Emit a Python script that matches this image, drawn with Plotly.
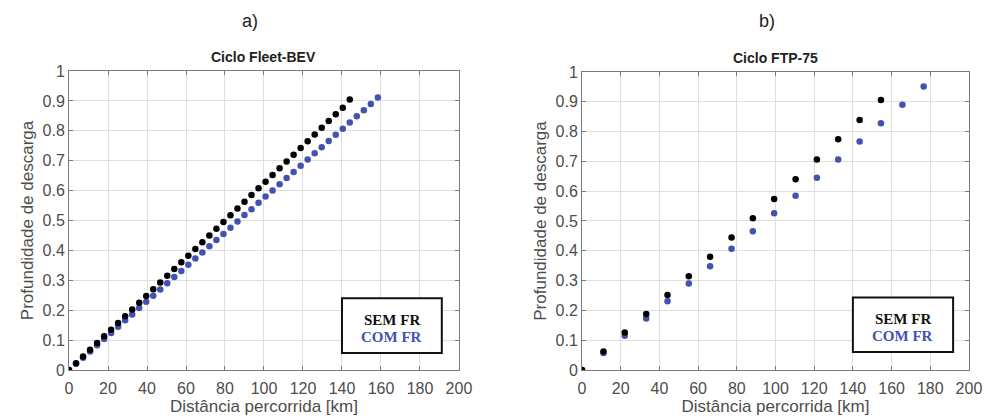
import plotly.graph_objects as go

# ---- Data: Ciclo Fleet-BEV ----
fleet_x_sem = [0, 3.6, 7.2, 10.8, 14.4, 18.0, 21.6, 25.2, 28.8, 32.4, 36.0, 39.6, 43.2, 46.8, 50.4,
               54.0, 57.6, 61.2, 64.8, 68.4, 72.0, 75.6, 79.2, 82.8, 86.4, 90.0, 93.6, 97.2, 100.8,
               104.4, 108.0, 111.6, 115.2, 118.8, 122.4, 126.0, 129.6, 133.2, 136.8, 140.4, 144.0]
fleet_y_sem = [0, 0.0225, 0.045, 0.0675, 0.09, 0.1125, 0.135, 0.1575, 0.18, 0.2025, 0.225, 0.2475,
               0.27, 0.2925, 0.315, 0.3375, 0.36, 0.3825, 0.405, 0.4275, 0.45, 0.4725, 0.495, 0.5175,
               0.54, 0.5625, 0.585, 0.6075, 0.63, 0.6525, 0.675, 0.6975, 0.72, 0.7425, 0.765, 0.7875,
               0.81, 0.8325, 0.855, 0.8775, 0.905]
fleet_x_com = [0, 3.6, 7.2, 10.8, 14.4, 18.0, 21.6, 25.2, 28.8, 32.4, 36.0, 39.6, 43.2, 46.8, 50.4,
               54.0, 57.6, 61.2, 64.8, 68.4, 72.0, 75.6, 79.2, 82.8, 86.4, 90.0, 93.6, 97.2, 100.8,
               104.4, 108.0, 111.6, 115.2, 118.8, 122.4, 126.0, 129.6, 133.2, 136.8, 140.4, 144.0,
               147.6, 151.2, 154.8, 158.4]
fleet_y_com = [0, 0.021, 0.041, 0.062, 0.083, 0.104, 0.124, 0.145, 0.166, 0.186, 0.207, 0.228,
               0.248, 0.269, 0.290, 0.311, 0.331, 0.352, 0.373, 0.393, 0.414, 0.435, 0.455, 0.476,
               0.497, 0.518, 0.538, 0.559, 0.580, 0.600, 0.621, 0.642, 0.662, 0.683, 0.704, 0.725,
               0.745, 0.766, 0.787, 0.807, 0.828, 0.849, 0.869, 0.890, 0.911]

# ---- Data: Ciclo FTP-75 ----
ftp_x_sem = [0, 11.1, 22.1, 33.2, 44.2, 55.2, 66.2, 77.3, 88.3, 99.3, 110.4, 121.4, 132.4, 143.5, 154.5]
ftp_y_sem = [0, 0.062, 0.126, 0.188, 0.252, 0.315, 0.380, 0.445, 0.509, 0.574, 0.640, 0.706, 0.774, 0.839, 0.906]
ftp_x_com = [0, 11.1, 22.1, 33.2, 44.2, 55.2, 66.2, 77.3, 88.3, 99.3, 110.4, 121.4, 132.4, 143.5, 154.5,
             165.6, 176.6]
ftp_y_com = [0, 0.057, 0.115, 0.173, 0.231, 0.290, 0.348, 0.407, 0.466, 0.526, 0.585, 0.645, 0.706,
             0.767, 0.828, 0.890, 0.951]

x_ticks = [0, 20, 40, 60, 80, 100, 120, 140, 160, 180, 200]
y_ticks = [0, 0.1, 0.2, 0.3, 0.4, 0.5, 0.6, 0.7, 0.8, 0.9, 1]
y_tick_text = ["0", "0.1", "0.2", "0.3", "0.4", "0.5", "0.6", "0.7", "0.8", "0.9", "1"]

BLACK = "#000000"
BLUE = "#4152b3"
SANS = "Liberation Sans, Arial, sans-serif"
SERIF = "Liberation Serif, Times New Roman, serif"
GRAY_TXT = "#4d4d4d"

fig = go.Figure()
mk = 6.5
fig.add_trace(go.Scatter(x=fleet_x_com, y=fleet_y_com, mode="markers",
                         marker=dict(color=BLUE, size=mk), xaxis="x", yaxis="y", showlegend=False))
fig.add_trace(go.Scatter(x=fleet_x_sem, y=fleet_y_sem, mode="markers",
                         marker=dict(color=BLACK, size=mk), xaxis="x", yaxis="y", showlegend=False))
fig.add_trace(go.Scatter(x=ftp_x_com, y=ftp_y_com, mode="markers",
                         marker=dict(color=BLUE, size=mk), xaxis="x2", yaxis="y2", showlegend=False))
fig.add_trace(go.Scatter(x=ftp_x_sem, y=ftp_y_sem, mode="markers",
                         marker=dict(color=BLACK, size=mk), xaxis="x2", yaxis="y2", showlegend=False))

axis_common = dict(showgrid=True, gridcolor="#dedede", gridwidth=1, zeroline=False,
                   showline=True, linecolor="#7a7a7a", linewidth=1, mirror="allticks",
                   ticks="inside", ticklen=4, tickcolor="#7a7a7a", automargin=False,
                   tickfont=dict(family=SANS, size=16, color=GRAY_TXT))

xa = dict(axis_common, range=[0, 200], tickvals=x_ticks, ticklabelstandoff=4,
          title=dict(text="Distância percorrida [km]", font=dict(family=SANS, size=17, color=GRAY_TXT),
                     standoff=0))
ya = dict(axis_common, range=[0, 1], tickvals=y_ticks, ticktext=y_tick_text,
          title=dict(text="Profundidade de descarga", font=dict(family=SANS, size=17, color=GRAY_TXT),
                     standoff=4))

fig.update_layout(
    width=993, height=416,
    margin=dict(l=0, r=0, t=0, b=0),
    paper_bgcolor="white", plot_bgcolor="white",
    xaxis=dict(xa, domain=[0.0695, 0.4622], anchor="y"),
    yaxis=dict(ya, domain=[0.1106, 0.8293], anchor="x"),
    xaxis2=dict(xa, domain=[0.5861, 0.9758], anchor="y2"),
    yaxis2=dict(ya, domain=[0.1106, 0.8269], anchor="x2"),
)

ann = []
ann.append(dict(text="a)", xref="paper", yref="paper", x=0.2515, y=(416 - 21) / 416,
                xanchor="center", yanchor="middle",
                showarrow=False, font=dict(family=SANS, size=18, color="#222222")))
ann.append(dict(text="b)", xref="paper", yref="paper", x=0.7725, y=(416 - 21) / 416,
                xanchor="center", yanchor="middle",
                showarrow=False, font=dict(family=SANS, size=18, color="#222222")))
ann.append(dict(text="<b>Ciclo Fleet-BEV</b>", xref="x domain", yref="y domain", x=0.5, y=1.0,
                xanchor="center", yanchor="bottom", yshift=4, showarrow=False,
                font=dict(family=SANS, size=14, color="#222222")))
ann.append(dict(text="<b>Ciclo FTP-75</b>", xref="x2 domain", yref="y2 domain", x=0.5, y=1.0,
                xanchor="center", yanchor="bottom", yshift=4, showarrow=False,
                font=dict(family=SANS, size=14, color="#222222")))

shapes = []
for xr, yr, x0, x1, y0, y1 in [("x domain", "y domain", 0.70, 0.956, 0.057, 0.240),
                               ("x2 domain", "y2 domain", 0.700, 0.959, 0.060, 0.243)]:
    shapes.append(dict(type="rect", xref=xr, yref=yr, x0=x0, x1=x1, y0=y0, y1=y1,
                       line=dict(color="#111111", width=2), fillcolor="white"))
    xc = (x0 + x1) / 2
    ann.append(dict(text="<b>SEM FR</b>", xref=xr, yref=yr, x=xc, y=y0 + (y1 - y0) * 0.60,
                    xanchor="center", yanchor="middle",
                    showarrow=False, font=dict(family=SERIF, size=15, color="#111111")))
    ann.append(dict(text="<b>COM FR</b>", xref=xr, yref=yr, x=xc, y=y0 + (y1 - y0) * 0.30,
                    xanchor="center", yanchor="middle",
                    showarrow=False, font=dict(family=SERIF, size=15, color=BLUE)))

fig.update_layout(annotations=ann, shapes=shapes)
fig.write_html("out.html", config={"displayModeBar": False},
               post_script="document.body.style.margin='0';document.body.style.padding='0';")
